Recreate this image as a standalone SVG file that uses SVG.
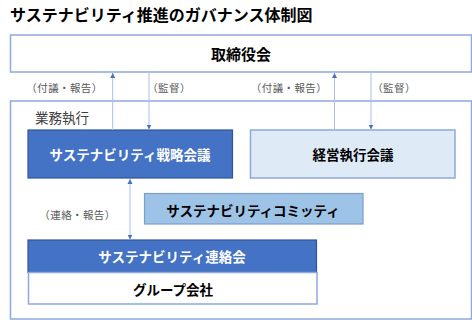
<svg xmlns="http://www.w3.org/2000/svg" width="472" height="320" viewBox="0 0 472 320">
<defs>
<style>
text{font-family:"Noto Sans CJK JP","Noto Sans",sans-serif;text-anchor:middle;dominant-baseline:central}
.t{font-size:16px;font-weight:bold;fill:#000;text-anchor:start}
.lbl{font-size:10.5px;fill:#595959;letter-spacing:0.4px}
.bw{font-size:13.5px;font-weight:bold;fill:#fff}
.bk{font-size:13.5px;font-weight:bold;fill:#000}
.frame{fill:#fff;stroke:#8EA9DB;stroke-width:1.5}
.dark{fill:#4472C4;stroke:#2F5597;stroke-width:1.2}
.light{fill:#DEEBF7;stroke:#8EA9DB;stroke-width:1.5}
.mid{fill:#9DC3E6;stroke:#7F9CCB;stroke-width:1.2}
.con{stroke:#A9BFE6;stroke-width:1;fill:none}
</style>
<marker id="ah" markerWidth="6" markerHeight="6" refX="5" refY="3" orient="auto" markerUnits="userSpaceOnUse">
<path d="M0,0.5 L5,3 L0,5.5 Z" fill="#4472C4"/>
</marker>
<marker id="as" markerWidth="6" markerHeight="6" refX="0" refY="3" orient="auto" markerUnits="userSpaceOnUse">
<path d="M5,0.5 L0,3 L5,5.5 Z" fill="#4472C4"/>
</marker>
</defs>
<rect width="472" height="320" fill="#fff"/>
<text class="t" x="10" y="14">サステナビリティ推進のガバナンス体制図</text>
<g id="board">
<rect class="frame" x="10.5" y="35" width="461" height="37"/>
<text class="bk" style="font-size:15px" x="241" y="53.5">取締役会</text>
</g>
<g id="execution">
<rect class="frame" x="10.5" y="101" width="461" height="218"/>
<text style="font-size:13.5px;fill:#404040" x="62" y="117">業務執行</text>
</g>
<g id="strategy">
<rect class="dark" x="28" y="130" width="204.5" height="48"/>
<text class="bw" x="130" y="154">サステナビリティ戦略会議</text>
</g>
<g id="management">
<rect class="light" x="250.5" y="130" width="204.5" height="48"/>
<text class="bk" x="353" y="154">経営執行会議</text>
</g>
<g id="committee">
<rect class="mid" x="144.5" y="193.5" width="218.5" height="30.5"/>
<text class="bk" x="253" y="209.5">サステナビリティコミッティ</text>
</g>
<g id="liaison">
<rect class="dark" x="28" y="240" width="288.5" height="32.5"/>
<text class="bw" x="172" y="256">サステナビリティ連絡会</text>
</g>
<g id="group">
<rect fill="#fff" stroke="#8EA9DB" stroke-width="1.5" x="28.5" y="272.5" width="288.5" height="31.5"/>
<text class="bk" x="173" y="288.5">グループ会社</text>
</g>
<g id="connectors">
<line class="con" x1="112.7" y1="130" x2="112.7" y2="73" marker-end="url(#ah)"/>
<line class="con" x1="149" y1="73" x2="149" y2="129.5" marker-end="url(#ah)"/>
<line class="con" x1="334.5" y1="130" x2="334.5" y2="73" marker-end="url(#ah)"/>
<line class="con" x1="371" y1="73" x2="371" y2="129.5" marker-end="url(#ah)"/>
<line class="con" x1="130" y1="179" x2="130" y2="239.5" marker-start="url(#as)" marker-end="url(#ah)"/>
<text class="lbl" x="64.5" y="87">（付議・報告）</text>
<text class="lbl" x="169" y="87">（監督）</text>
<text class="lbl" x="289" y="87">（付議・報告）</text>
<text class="lbl" x="394" y="87">（監督）</text>
<text class="lbl" x="77.5" y="214">（連絡・報告）</text>
</g>
</svg>
